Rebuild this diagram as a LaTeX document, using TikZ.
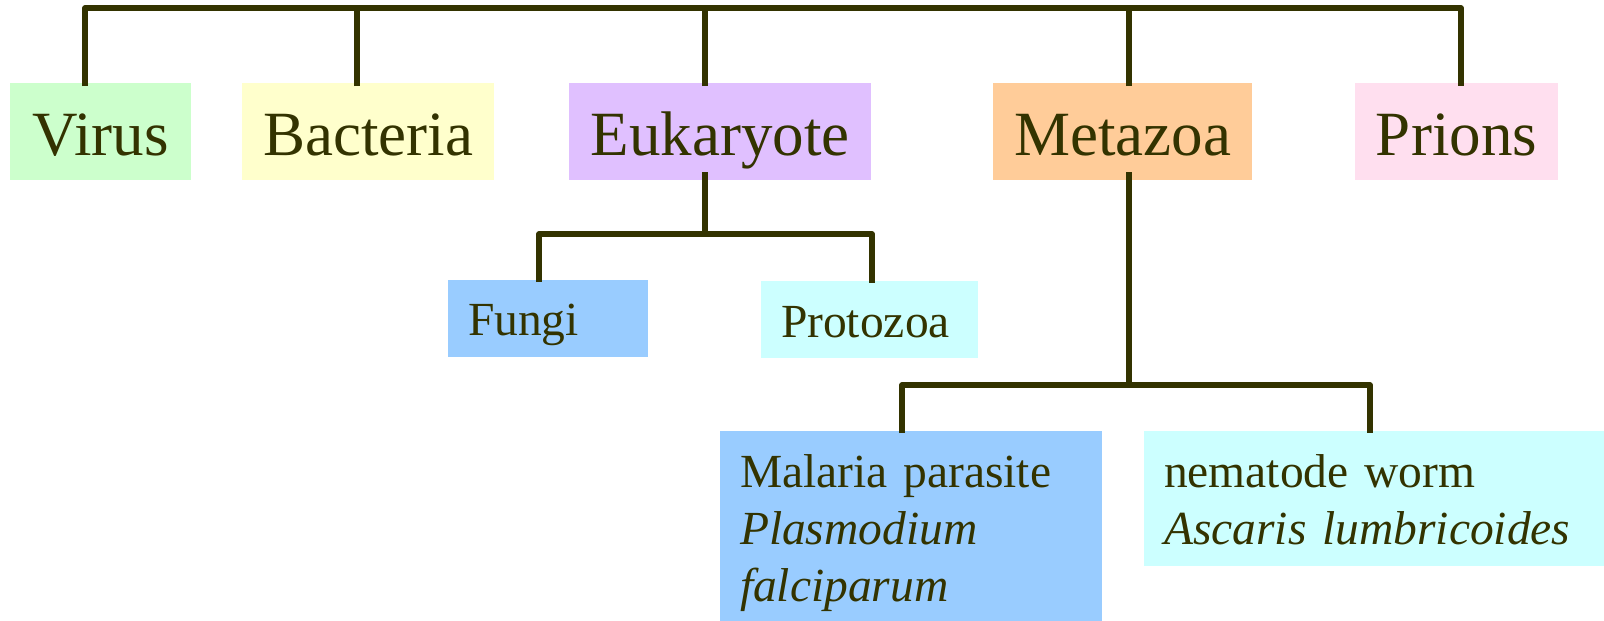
\documentclass[tikz,border=0pt]{standalone}
\usepackage{fontspec}
\setmainfont{Liberation Serif}
\definecolor{ink}{HTML}{333300}
\definecolor{virusc}{HTML}{CCFFCC}
\definecolor{bactc}{HTML}{FFFFCC}
\definecolor{eukc}{HTML}{E0C0FF}
\definecolor{metac}{HTML}{FFCC99}
\definecolor{prionc}{HTML}{FFDFEF}
\definecolor{bluec}{HTML}{99CCFF}
\definecolor{cyanc}{HTML}{CCFFFF}
\begin{document}
\begin{tikzpicture}[x=1pt,y=-1pt,
  box/.style={anchor=north west, inner ysep=0pt, outer sep=0pt, text=ink},
  big/.style={box, inner xsep=15pt, font=\fontsize{63}{75}\selectfont, align=center, text height=72pt, text depth=25pt},
  small/.style={box, inner xsep=20pt, font=\fontsize{47.5}{57}\selectfont, align=left},
  conn/.style={draw=ink, line width=5.2pt, line join=round}]
\useasboundingbox (0,0) rectangle (1604,621);
% top row
\node[big, fill=virusc, text width=151pt] (vi) at (10,83) {Virus};
\node[big, fill=bactc, text width=222pt] (ba) at (242,83) {Bacteria};
\node[big, fill=eukc, text width=272pt] (eu) at (569,83) {Eukaryote};
\node[big, fill=metac, text width=229pt] (me) at (993,83) {Metazoa};
\node[big, fill=prionc, text width=173pt] (pr) at (1355,83) {Prions};
% second row
\node[small, fill=bluec, text width=160pt, text height=55pt, text depth=22pt] (fu) at (448,280) {Fungi};
\node[small, fill=cyanc, text width=177pt, text height=56pt, text depth=21pt] (pz) at (761,281) {Protozoa};
% third row
\node[small, fill=bluec, text width=342pt, text height=56pt, text depth=134pt] (ma) at (720,431) {Malaria parasite\\\textit{Plasmodium}\\\textit{falciparum}};
\node[small, fill=cyanc, text width=420pt, text height=56pt, text depth=79pt] (ne) at (1144,431) {nematode worm\\\textit{Ascaris lumbricoides}};
% connectors
\coordinate (bus) at (700,8);
\coordinate (eubus) at (705,234);
\coordinate (mebus) at (1129,385);
\draw[conn] ([xshift=-15.5pt,yshift=-3pt]vi.north) |- (bus) -| ([xshift=4.5pt,yshift=-3pt]pr.north);
\draw[conn] ([xshift=-11pt,yshift=-3pt]ba.north) -- ([xshift=-11pt]ba.north |- bus);
\draw[conn] ([xshift=-15pt,yshift=-3pt]eu.north) -- ([xshift=-15pt]eu.north |- bus);
\draw[conn] ([xshift=6.5pt,yshift=-3pt]me.north) -- ([xshift=6.5pt]me.north |- bus);
\draw[conn] ([xshift=-15pt,yshift=8pt]eu.south) -- (eubus);
\draw[conn] ([xshift=-9pt,yshift=-2pt]fu.north) |- (eubus) -| ([xshift=2.5pt,yshift=-2pt]pz.north);
\draw[conn] ([xshift=6.5pt,yshift=8pt]me.south) -- (mebus);
\draw[conn] ([xshift=-9pt,yshift=-2pt]ma.north) |- (mebus) -| ([xshift=-4pt,yshift=-2pt]ne.north);
\end{tikzpicture}
\end{document}
